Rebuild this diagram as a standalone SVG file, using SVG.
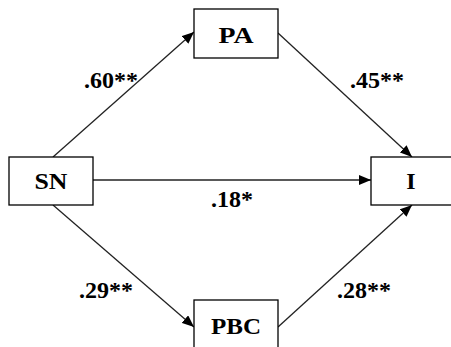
<svg xmlns="http://www.w3.org/2000/svg" width="451" height="347" viewBox="0 0 451 347">
<defs>
<marker id="ah" viewBox="0 0 12 10" refX="12" refY="5" markerWidth="12" markerHeight="10" markerUnits="userSpaceOnUse" orient="auto">
<path d="M0,0 L12,5 L0,10 z" fill="#000"/>
</marker>
<style>
.box{fill:#fff;stroke:#000;stroke-width:1.3}
.t{font-family:'Liberation Serif','Times New Roman',serif;font-weight:700;font-size:24px;fill:#000;text-anchor:middle}
.c{stroke:#222;stroke-width:1.3;fill:none;marker-end:url(#ah)}
</style>
</defs>
<rect width="451" height="347" fill="#fff"/>
<g id="connectors">
<line class="c" x1="53" y1="157" x2="194" y2="32"/>
<line class="c" x1="278" y1="33" x2="412" y2="157"/>
<line class="c" x1="93" y1="180" x2="371" y2="180"/>
<line class="c" x1="53" y1="205" x2="194" y2="327"/>
<line class="c" x1="278" y1="327" x2="412" y2="205"/>
<text class="t" x="111" y="88">.60**</text>
<text class="t" x="377" y="88">.45**</text>
<text class="t" x="232" y="207">.18*</text>
<text class="t" x="106" y="298">.29**</text>
<text class="t" x="364" y="298">.28**</text>
</g>
<g id="PA"><rect class="box" x="194" y="9" width="84" height="49"/><text class="t" x="236" y="43" textLength="35" lengthAdjust="spacingAndGlyphs">PA</text></g>
<g id="SN"><rect class="box" x="9" y="157" width="84" height="48"/><text class="t" x="51" y="189" textLength="33" lengthAdjust="spacingAndGlyphs">SN</text></g>
<g id="I"><rect class="box" x="371" y="157" width="90" height="48"/><text class="t" x="411" y="189">I</text></g>
<g id="PBC"><rect class="box" x="194" y="300" width="84" height="60"/><text class="t" x="236" y="334" textLength="50" lengthAdjust="spacingAndGlyphs">PBC</text></g>
</svg>
